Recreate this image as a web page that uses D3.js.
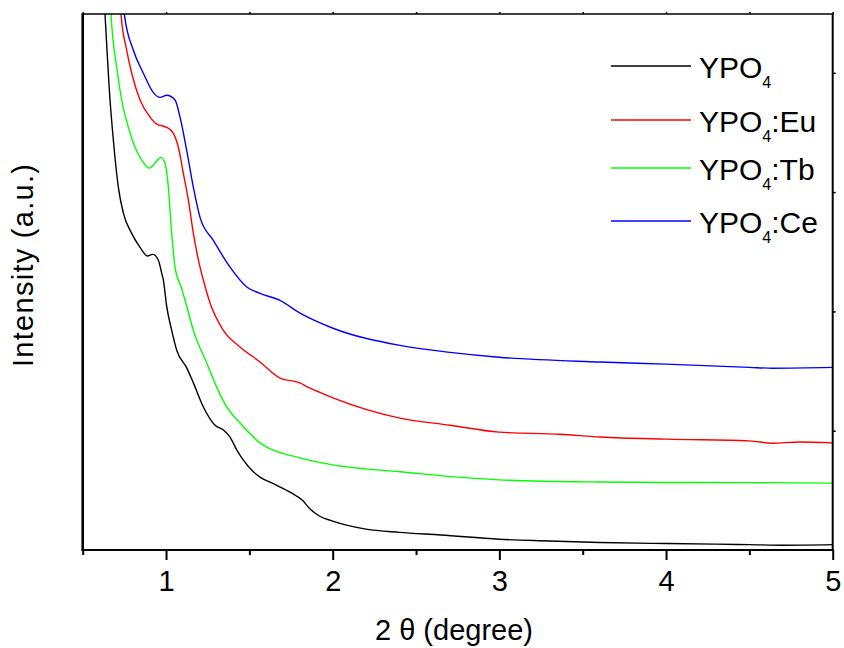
<!DOCTYPE html>
<html>
<head>
<meta charset="utf-8">
<script src="https://cdn.jsdelivr.net/npm/d3@7"></script>
<style>
  html, body { margin: 0; padding: 0; background: #fff; }
  svg { display: block; font-family: Arial, "Liberation Sans", sans-serif; }
</style>
</head>
<body>
<svg id="chart" width="844" height="648"></svg>
<script>
// ---------- data ----------
const seriesNames = ["YPO4", "YPO4:Eu", "YPO4:Tb", "YPO4:Ce"];
const seriesSuffix = ["", ":Eu", ":Tb", ":Ce"];
const seriesColors = ["#000000", "#ff0000", "#00ff00", "#0000ff"];

const ypo4 = [
  [0.62,4849],[0.634,4490],[0.664,3772],[0.684,3435],[0.714,3040],[0.744,2824],[0.794,2654],
  [0.844,2537],[0.888,2465],[0.920,2478],[0.954,2429],[0.974,2321],[0.984,2263],[1.004,2043],
  [1.034,1841],[1.064,1675],[1.124,1527],[1.164,1401],[1.224,1199],[1.294,1046],[1.344,1006],
  [1.384,947],[1.424,840],[1.464,754],[1.524,656],[1.564,611],[1.65,552],[1.72,503],[1.78,455],
  [1.82,415],[1.86,350],[1.92,285],[2.0,242],[2.2,175],[2.4,148],[2.65,126],[3.0,90],[3.3,76],
  [3.6,63],[4.0,54],[4.3,49],[4.5,45],[4.7,40],[5.0,45]
];
const ypo4Eu = [
  [0.715,4849],[0.730,4490],[0.764,4189],[0.794,3996],[0.844,3772],[0.904,3628],[0.944,3570],
  [1.004,3543],[1.044,3493],[1.074,3376],[1.104,3156],[1.134,2932],[1.164,2654],[1.204,2371],
  [1.224,2263],[1.264,2070],[1.344,1841],[1.444,1702],[1.564,1576],[1.684,1441],[1.804,1400],
  [1.85,1365],[1.9,1335],[2.002,1275],[2.404,1105],[2.704,1046],[2.998,988],[3.364,970],
  [3.604,947],[4.0,929],[4.5,915],[4.64,895],[4.8,905],[5.0,898]
];
const ypo4Tb = [
  [0.655,4939],[0.670,4490],[0.704,4045],[0.734,3772],[0.774,3543],[0.814,3376],[0.854,3269],
  [0.900,3201],[0.934,3242],[0.968,3291],[0.994,3242],[1.014,3040],[1.034,2654],[1.054,2371],
  [1.094,2190],[1.124,2045],[1.164,1841],[1.244,1567],[1.304,1365],[1.364,1199],[1.444,1064],
  [1.564,898],[1.804,772],[2.002,714],[2.404,656],[2.998,588],[3.604,570],[4.0,566],[4.5,565],[5.0,561]
];
const ypo4Ce = [
  [0.735,4849],[0.750,4490],[0.804,4189],[0.864,3996],[0.924,3834],[0.964,3794],[1.004,3812],
  [1.054,3772],[1.084,3628],[1.124,3350],[1.164,3040],[1.204,2788],[1.284,2595],[1.384,2371],
  [1.484,2205],[1.564,2151],[1.684,2092],[1.804,1985],[2.002,1859],[2.404,1715],[2.704,1657],
  [2.998,1616],[3.604,1576],[4.0,1558],[4.5,1531],[4.64,1524],[5.0,1531]
];
const seriesData = [ypo4, ypo4Eu, ypo4Tb, ypo4Ce];

const xMajorTicks = [1, 2, 3, 4, 5];
const xMinorTicks = [0.5, 1.5, 2.5, 3.5, 4.5];
const yRightTicks = [1000, 2000, 3000, 4000];
const xDomain = [0.5, 5];
const yDomain = [0, 4493];

const xTitle = "2 θ (degree)";
const yTitle = "Intensity (a.u.)";

// ---------- layout ----------
const pLeft = 82.7, pRight = 832.7, pTop = 14, pBottom = 550;
const svg = d3.select("#chart");
const x = d3.scaleLinear().domain(xDomain).range([pLeft, pRight]);
const y = d3.scaleLinear().domain(yDomain).range([pBottom, pTop]);

svg.append("defs").append("clipPath").attr("id", "plotclip")
  .append("rect").attr("x", pLeft).attr("y", pTop)
  .attr("width", pRight - pLeft).attr("height", pBottom - pTop);

// curves
const line = d3.line().x(d => x(d[0])).y(d => y(d[1])).curve(d3.curveMonotoneX);
const gLines = svg.append("g").attr("clip-path", "url(#plotclip)");
seriesData.forEach((s, i) => {
  gLines.append("path").datum(s)
    .attr("d", line)
    .attr("fill", "none")
    .attr("stroke", seriesColors[i])
    .attr("stroke-width", 1.4)
    .attr("stroke-linejoin", "round");
});

// bottom axis (major)
const fontSize = 29;
const xAxisMajor = d3.axisBottom(x).tickValues(xMajorTicks).tickSize(10).tickPadding(10)
  .tickFormat(d3.format("d"));
const gx = svg.append("g").attr("transform", `translate(0,${pBottom})`).call(xAxisMajor);
gx.select(".domain").remove();
gx.selectAll(".tick line").attr("stroke", "#000").attr("stroke-width", 2);
gx.selectAll(".tick text").attr("font-size", fontSize).attr("fill", "#000")
  .attr("font-family", "Arial, 'Liberation Sans', sans-serif");

// bottom axis minor
const xAxisMinor = d3.axisBottom(x).tickValues(xMinorTicks).tickSize(5).tickFormat("");
const gxm = svg.append("g").attr("transform", `translate(0,${pBottom})`).call(xAxisMinor);
gxm.select(".domain").remove();
gxm.selectAll(".tick line").attr("stroke", "#000").attr("stroke-width", 2);

// top axis small ticks
const xAxisTop = d3.axisTop(x).tickValues(xMajorTicks.concat(xMinorTicks)).tickSize(2).tickFormat("");
const gxt = svg.append("g").attr("transform", `translate(0,${pTop})`).call(xAxisTop);
gxt.select(".domain").remove();
gxt.selectAll(".tick line").attr("stroke", "#000").attr("stroke-width", 1.5);

// right axis small ticks
const yAxisRight = d3.axisRight(y).tickValues(yRightTicks).tickSize(3).tickFormat("");
const gyr = svg.append("g").attr("transform", `translate(${pRight},0)`).call(yAxisRight);
gyr.select(".domain").remove();
gyr.selectAll(".tick line").attr("stroke", "#000").attr("stroke-width", 1.5);

// frame
svg.append("line").attr("x1", pLeft).attr("x2", pRight + 1).attr("y1", pTop).attr("y2", pTop)
  .attr("stroke", "#000").attr("stroke-width", 1.5);
svg.append("line").attr("x1", pRight).attr("x2", pRight).attr("y1", pTop).attr("y2", pBottom)
  .attr("stroke", "#000").attr("stroke-width", 2);
svg.append("line").attr("x1", pLeft - 1).attr("x2", pRight + 1).attr("y1", pBottom).attr("y2", pBottom)
  .attr("stroke", "#000").attr("stroke-width", 2);
svg.append("line").attr("x1", pLeft).attr("x2", pLeft).attr("y1", pTop - 0.7).attr("y2", pBottom + 1)
  .attr("stroke", "#000").attr("stroke-width", 2.6);

// axis titles
svg.append("text").attr("x", 454).attr("y", 640).attr("text-anchor", "middle")
  .attr("font-size", fontSize).attr("fill", "#000").text(xTitle);
svg.append("text").attr("transform", "translate(33,265.5) rotate(-90)").attr("text-anchor", "middle")
  .attr("font-size", fontSize).attr("fill", "#000")
  .attr("textLength", 203).attr("lengthAdjust", "spacing").text(yTitle);

// legend
const legendBaselines = [78, 132, 180, 233];
const legend = svg.append("g");
seriesNames.forEach((name, i) => {
  const by = legendBaselines[i];
  legend.append("line").attr("x1", 611).attr("x2", 691)
    .attr("y1", by - 12).attr("y2", by - 12)
    .attr("stroke", seriesColors[i]).attr("stroke-width", 1.4);
  const t = legend.append("text").attr("x", 699).attr("y", by)
    .attr("font-size", 30).attr("fill", "#000");
  t.append("tspan").text("YPO");
  t.append("tspan").attr("font-size", 16).attr("dy", 10).text("4");
  if (seriesSuffix[i]) t.append("tspan").attr("dy", -10).text(seriesSuffix[i]);
});
</script>
</body>
</html>
